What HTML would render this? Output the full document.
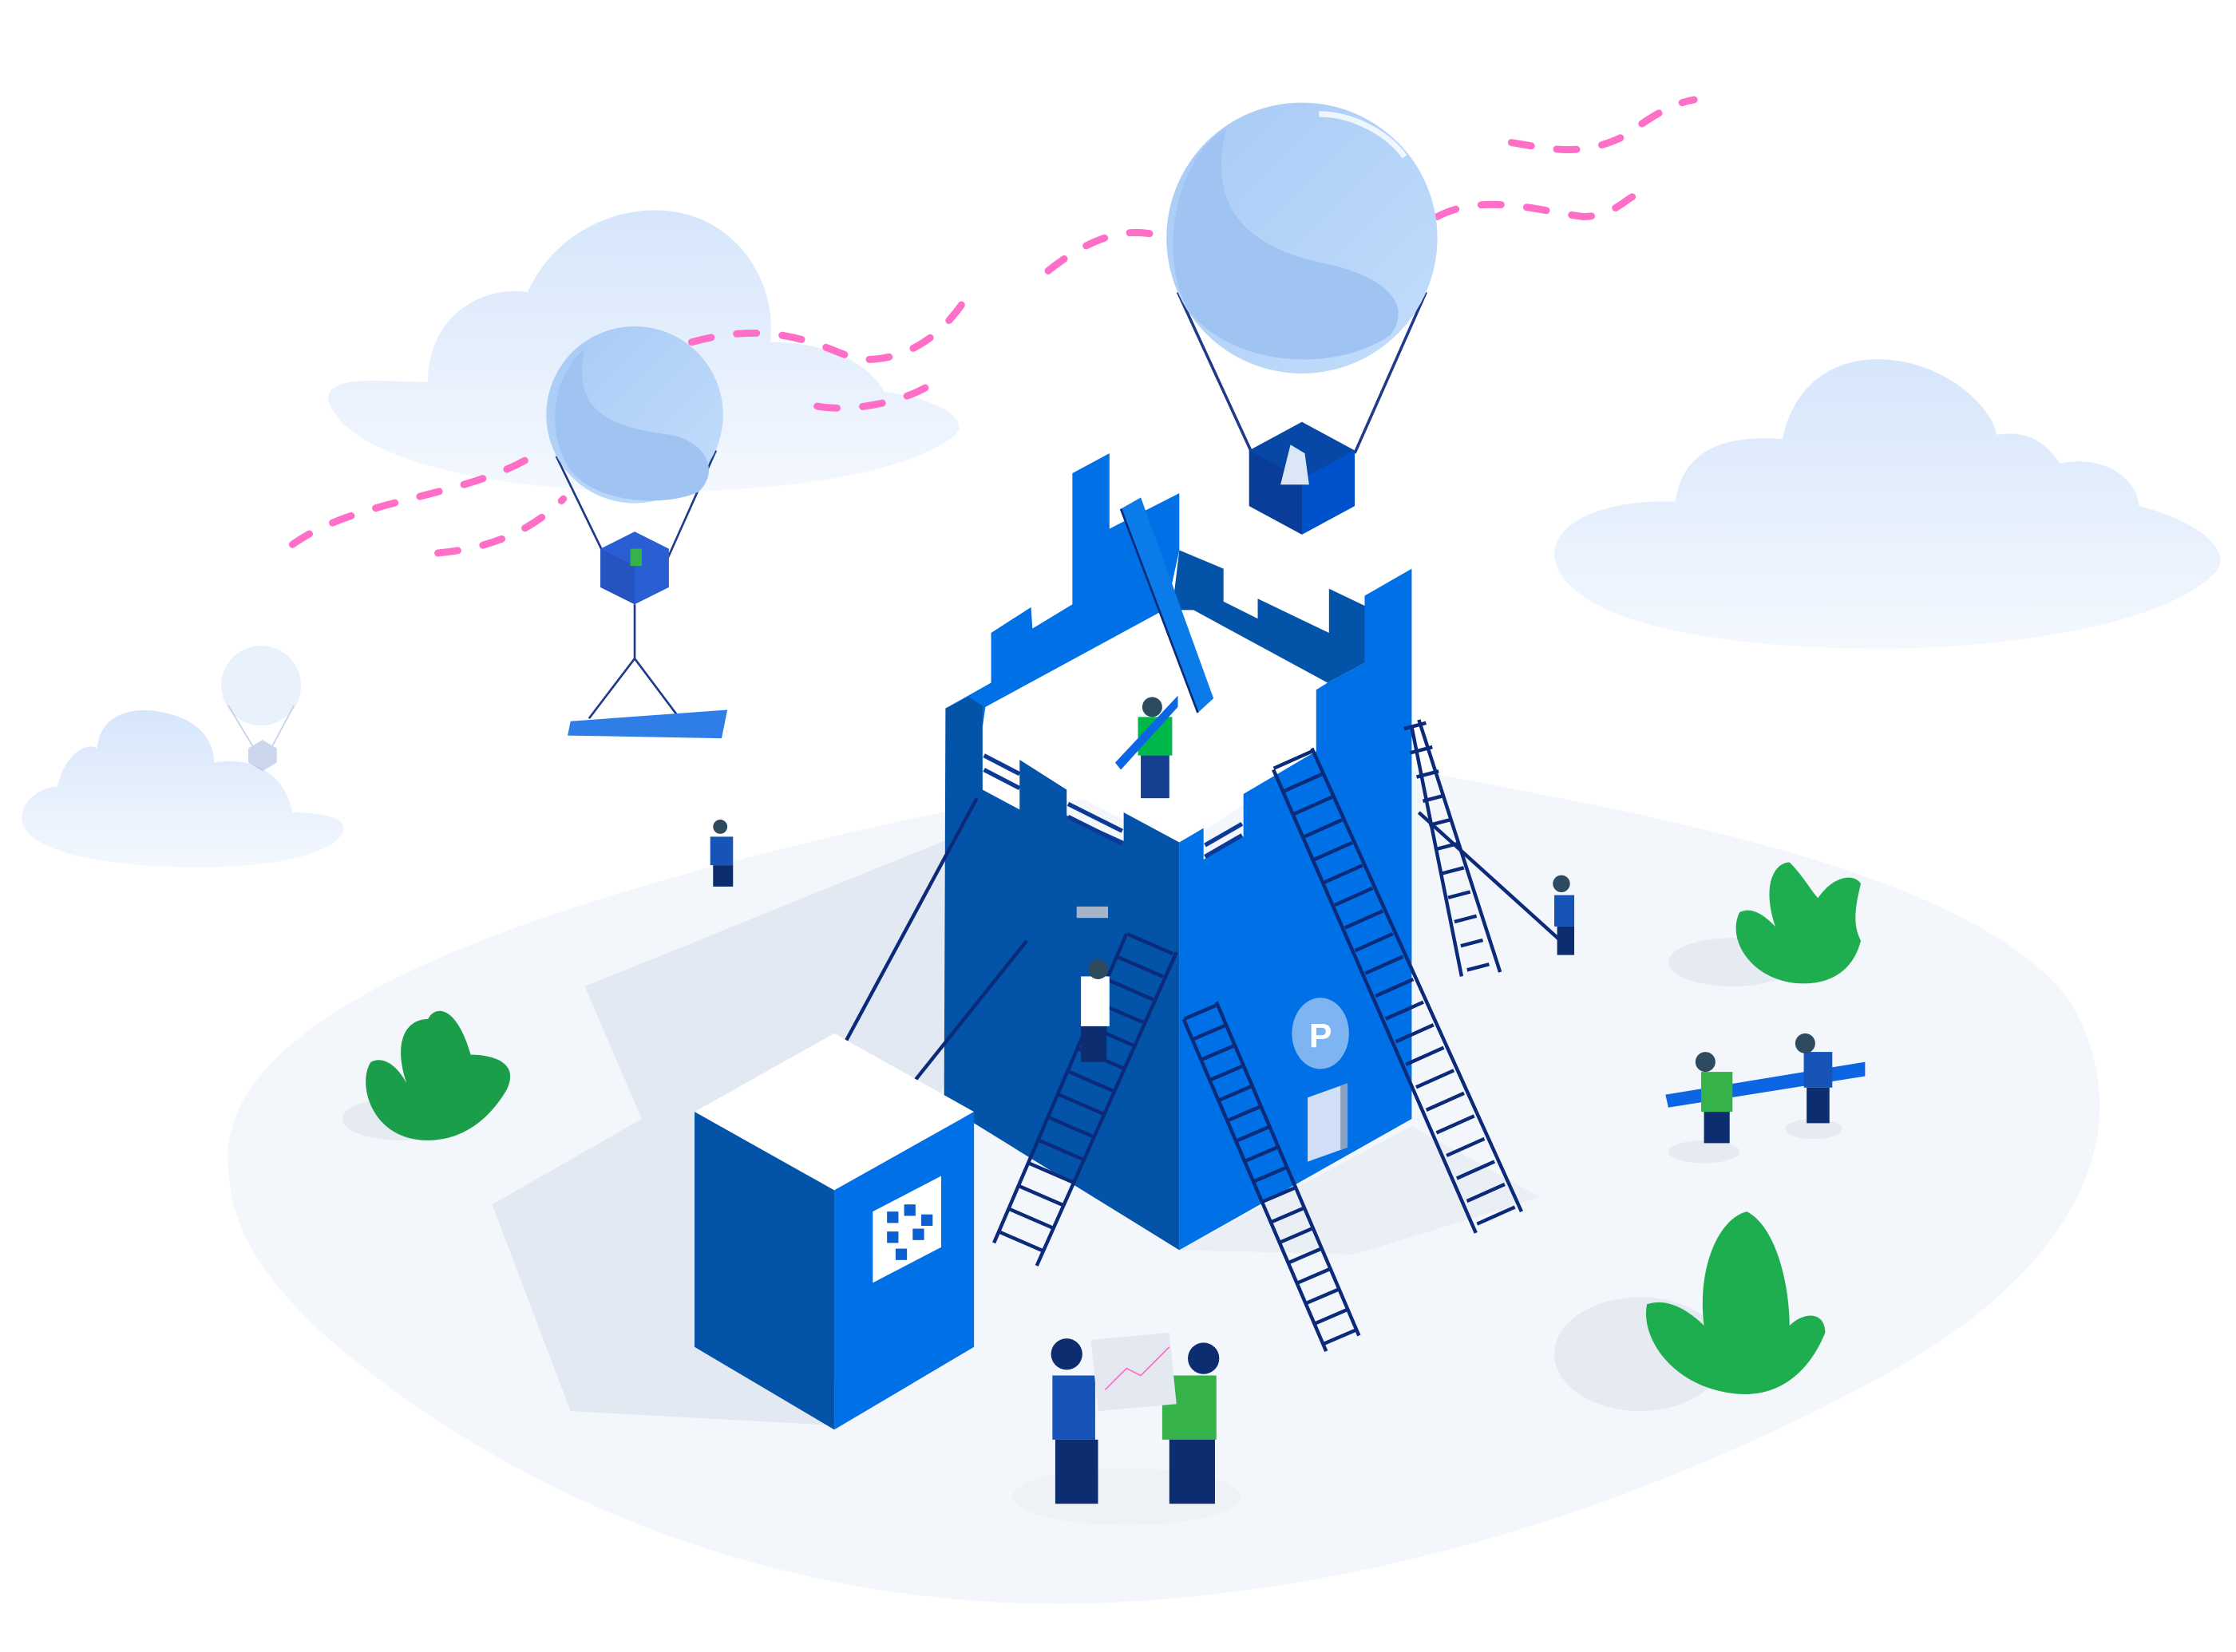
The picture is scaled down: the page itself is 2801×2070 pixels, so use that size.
<!DOCTYPE html>
<html><head><meta charset="utf-8"><style>html,body{margin:0;padding:0;background:#fff;width:2801px;height:2070px;overflow:hidden}svg{display:block}</style></head><body>
<svg width="2801" height="2070" viewBox="0 0 1568 1159" xmlns="http://www.w3.org/2000/svg">
<defs>
<linearGradient id="cl" x1="0" y1="0" x2="0" y2="1"><stop offset="0" stop-color="#d6e6fb"/><stop offset="1" stop-color="#f4f8fe"/></linearGradient>
<linearGradient id="bl" x1="0" y1="0" x2="1" y2="1"><stop offset="0" stop-color="#a6c9f5"/><stop offset="1" stop-color="#c4defc"/></linearGradient>
</defs>
<path d="M160,820 C150,720 330,640 660,570 L990,540 C1150,570 1380,610 1450,700 C1500,780 1470,880 1330,960 C1150,1060 950,1120 760,1125 C520,1130 330,1030 220,930 C180,890 162,860 160,820Z" fill="#f3f7fc"/>
<polygon points="410,692 662,590 662,760 585,1000 400,990 345,845 450,785" fill="#e3e9f3"/>
<polygon points="827,877 990,790 1080,840 950,880" fill="#eaeff6"/>
<g fill="url(#cl)">
<path d="M230,280 C230,262 270,268 300,268 C300,220 340,200 370,205 C390,160 440,140 480,150 C520,160 545,200 540,240 C580,240 610,255 620,275 C660,280 680,295 670,305 C640,330 560,345 460,345 C340,345 240,320 230,280Z"/>
<path d="M1090,390 C1090,360 1140,350 1175,352 C1180,315 1210,305 1250,308 C1260,260 1300,245 1340,255 C1380,265 1400,295 1400,305 C1430,300 1440,320 1445,325 C1480,318 1500,340 1500,355 C1540,365 1565,385 1555,400 C1520,440 1400,455 1320,455 C1180,455 1095,430 1090,390Z"/>
<path d="M15,575 C15,560 30,552 40,552 C45,530 60,520 68,525 C70,500 95,495 115,500 C140,505 150,520 150,535 C180,530 200,545 205,570 C230,570 245,575 240,585 C225,605 170,610 120,608 C60,606 18,595 15,575Z"/>
</g>
<g fill="none" stroke="#ff6ec7" stroke-width="5" stroke-linecap="round" stroke-dasharray="14 18">
<path d="M205,382 C250,350 320,350 370,322"/>
<path d="M307,388 C340,385 370,375 395,350"/>
<path d="M485,240 C540,225 570,240 600,252 C640,255 665,230 680,205"/>
<path d="M573,285 C600,290 640,280 655,268"/>
<path d="M735,190 C760,170 790,155 820,168"/>
<path d="M1008,152 C1040,135 1080,148 1110,152 C1130,152 1140,140 1145,138"/>
<path d="M1060,100 C1090,105 1110,110 1140,95 C1160,80 1175,72 1188,70"/>
</g>
<g opacity="0.45"><circle cx="183" cy="481" r="28" fill="#cfe1f9"/><line x1="160" y1="495" x2="178" y2="525" stroke="#7f9bd0"/><line x1="206" y1="495" x2="190" y2="525" stroke="#7f9bd0"/><polygon points="174,525 184,519 194,525 194,535 184,541 174,535" fill="#8fa6d8"/></g>
<line x1="390" y1="320" x2="425" y2="392" stroke="#1e3a8a" stroke-width="1.5"/>
<line x1="502" y1="316" x2="468" y2="392" stroke="#1e3a8a" stroke-width="1.5"/>
<circle cx="445" cy="291" r="62" fill="url(#bl)"/>
<path d="M410,245 C400,290 430,300 470,305 C495,310 505,330 490,345 C470,355 420,355 400,330 C380,300 390,260 410,245Z" fill="#a0c4f2"/>
<polygon points="421,385 445,373 469,385 469,412 445,424 421,412" fill="#2a5fd3"/>
<polygon points="421,385 445,397 445,424 421,412" fill="#2553c0"/>
<rect x="442" y="385" width="8" height="12" fill="#36b24a"/>
<line x1="445" y1="424" x2="445" y2="462" stroke="#1e3a8a" stroke-width="1.5"/>
<line x1="445" y1="462" x2="413" y2="504" stroke="#1e3a8a" stroke-width="1.5"/>
<line x1="445" y1="462" x2="475" y2="502" stroke="#1e3a8a" stroke-width="1.5"/>
<polygon points="400,506 510,498 506,518 398,516" fill="#2f7ee8"/>
<line x1="826" y1="205" x2="878" y2="318" stroke="#1e3a8a" stroke-width="2"/>
<line x1="1000" y1="205" x2="950" y2="318" stroke="#1e3a8a" stroke-width="2"/>
<circle cx="913" cy="167" r="95" fill="url(#bl)"/>
<path d="M860,90 C845,150 880,175 930,185 C975,195 990,215 975,235 C940,260 870,260 835,220 C810,180 825,110 860,90Z" fill="#a0c4f2"/>
<path d="M925,80 C950,80 975,95 985,110" stroke="#fff" stroke-width="4" fill="none" opacity="0.8"/>
<polygon points="876,316 913,296 950,316 950,355 913,375 876,355" fill="#0747a6"/>
<polygon points="913,336 950,316 950,355 913,375" fill="#0052cc"/>
<polygon points="876,316 913,336 913,375 876,355" fill="#0a3d99"/>
<path d="M898,340 L905,312 L915,318 L918,340 Z" fill="#dbe7f7"/>
<polygon points="678,497 820,424 935,478 922,530 827,595 680,520" fill="#fff"/>
<polygon points="663,497 695,479 695,444 723,426 724,441 752,424 752,332 778,318 778,371 827,346 827,386 818,427 691,496 689,510" fill="#0070e6"/>
<polygon points="827,386 858,399 858,422 882,434 882,420 932,444 932,413 957,425 957,465 931,479 837,428 822,428" fill="#0353a8"/>
<polygon points="786,357 800,349 851,490 840,500" fill="#0c7bea"/>
<line x1="786" y1="357" x2="840" y2="500" stroke="#0b2b7a" stroke-width="1.5"/>
<polygon points="827,591 844,581 844,603 872,587 872,557 923,527 923,484 931,479 957,465 957,418 990,399 990,785 827,877" fill="#0070e6"/>
<polygon points="663,497 679,489 689,495 689,554 715,568 715,533 748,554 748,572 788,590 788,570 827,591 827,877 662,775" fill="#0353a8"/>
<g stroke="#0b3a96" stroke-width="3">
<line x1="690" y1="530" x2="715" y2="543"/><line x1="690" y1="540" x2="715" y2="553"/>
<line x1="749" y1="564" x2="787" y2="583"/><line x1="749" y1="573" x2="787" y2="592"/>
<line x1="845" y1="593" x2="871" y2="578"/><line x1="845" y1="601" x2="871" y2="586"/>
</g>
<polygon points="917,770 945,760 945,805 917,815" fill="#d0dff5"/>
<polygon points="940,762 945,760 945,805 940,807" fill="#8aa0c0"/>
<ellipse cx="926" cy="725" rx="20" ry="25" fill="#7fb4f3"/>
<text x="918" y="735" font-family="Liberation Sans,sans-serif" font-size="24" font-weight="bold" fill="#fff">P</text>
<g stroke="#0b2b7a" fill="none">
<line x1="906" y1="532" x2="1051" y2="857" stroke-width="29" stroke-dasharray="2.5 15"/>
<line x1="841" y1="709" x2="941" y2="942" stroke-width="24" stroke-dasharray="2.5 13"/>
<line x1="807" y1="661" x2="712" y2="880" stroke-width="35" stroke-dasharray="2.5 15"/>
<line x1="992" y1="508" x2="1038" y2="684" stroke-width="16" stroke-dasharray="2.5 15"/>
</g>
<g stroke="#0b2b7a" stroke-width="2.5" fill="none">
<line x1="893" y1="540" x2="1035" y2="865"/><line x1="920" y1="525" x2="1067" y2="850"/>
<line x1="830" y1="715" x2="930" y2="948"/><line x1="853" y1="703" x2="953" y2="937"/>
<line x1="790" y1="655" x2="697" y2="872"/><line x1="825" y1="668" x2="727" y2="888"/>
<line x1="990" y1="510" x2="1025" y2="685"/><line x1="995" y1="505" x2="1052" y2="682"/>
<line x1="685" y1="560" x2="588" y2="740"/><line x1="720" y1="660" x2="640" y2="760"/>
<line x1="995" y1="570" x2="1100" y2="665"/>
</g>
<polygon points="487,780 585,725 683,780 585,835" fill="#fff"/>
<polygon points="487,780 585,835 585,1003 487,945" fill="#0353a8"/>
<polygon points="585,835 683,780 683,945 585,1003" fill="#0070e6"/>
<polygon points="612,850 660,825 660,875 612,900" fill="#fff"/>
<g fill="#0b5fd0"><rect x="622" y="850" width="8" height="8"/><rect x="634" y="845" width="8" height="8"/><rect x="646" y="852" width="8" height="8"/><rect x="622" y="864" width="8" height="8"/><rect x="640" y="862" width="8" height="8"/><rect x="628" y="876" width="8" height="8"/></g>
<g>
<ellipse cx="280" cy="785" rx="40" ry="15" fill="#e6ebf2"/>
<path d="M300,800 C260,800 250,760 260,745 C270,740 280,750 285,760 C275,730 285,715 300,715 C305,705 320,705 330,740 C345,740 365,745 355,765 C340,790 320,800 300,800Z" fill="#1a9e4a"/>
<ellipse cx="1215" cy="675" rx="45" ry="17" fill="#e6ebf2"/>
<path d="M1265,690 C1230,690 1210,660 1220,640 C1230,635 1240,645 1245,650 C1235,620 1245,605 1255,605 C1265,615 1270,625 1275,630 C1285,615 1300,612 1305,620 C1300,640 1300,650 1305,660 C1300,680 1285,690 1265,690Z" fill="#1fae4f"/>
<ellipse cx="1150" cy="950" rx="60" ry="40" fill="#e6ebf2"/>
<path d="M1220,978 C1175,975 1150,940 1155,915 C1170,910 1185,920 1195,930 C1190,890 1205,855 1225,850 C1245,860 1255,900 1255,930 C1265,920 1280,920 1280,935 C1270,960 1250,980 1220,978Z" fill="#1fae4f"/>
</g>
<g>
<ellipse cx="790" cy="1050" rx="80" ry="20" fill="#eef1f6"/>
<rect x="738" y="965" width="30" height="45" fill="#1654b8"/><rect x="740" y="1010" width="30" height="45" fill="#0c2e70"/><circle cx="748" cy="950" r="11" fill="#0c2e70"/>
<rect x="815" y="965" width="38" height="45" fill="#36b24a"/><rect x="820" y="1010" width="32" height="45" fill="#0c2e70"/><circle cx="844" cy="953" r="11" fill="#0c2e70"/>
<polygon points="765,940 820,935 825,985 770,990" fill="#e4e9f1"/>
<polyline points="775,975 790,960 800,965 820,945" stroke="#ff6ec7" fill="none"/>
<rect x="798" y="503" width="24" height="27" fill="#00b84a"/><rect x="800" y="530" width="20" height="30" fill="#163f8f"/><circle cx="808" cy="496" r="7" fill="#2d4a5e"/>
<polygon points="782,535 826,488 826,496 786,540" fill="#0c66e4"/>
<rect x="758" y="685" width="20" height="35" fill="#fff"/><rect x="758" y="720" width="18" height="25" fill="#0c2e70"/><rect x="755" y="636" width="22" height="8" fill="#a7b4c8"/><circle cx="770" cy="680" r="7" fill="#2d4a5e"/>
<rect x="1090" y="628" width="14" height="22" fill="#1654b8"/><rect x="1092" y="650" width="12" height="20" fill="#0c2e70"/><circle cx="1095" cy="620" r="6" fill="#2d4a5e"/>
<rect x="498" y="587" width="16" height="20" fill="#1654b8"/><rect x="500" y="607" width="14" height="15" fill="#0c2e70"/><circle cx="505" cy="580" r="5" fill="#2d4a5e"/>
<ellipse cx="1195" cy="808" rx="25" ry="8" fill="#e6ebf2"/><ellipse cx="1272" cy="792" rx="20" ry="7" fill="#e6ebf2"/>
<polygon points="1168,768 1308,745 1308,755 1170,777" fill="#0c66e4"/>
<rect x="1193" y="752" width="22" height="28" fill="#36b24a"/><rect x="1195" y="780" width="18" height="22" fill="#0c2e70"/><circle cx="1196" cy="745" r="7" fill="#2d4a5e"/>
<rect x="1265" y="738" width="20" height="25" fill="#1654b8"/><rect x="1267" y="763" width="16" height="25" fill="#0c2e70"/><circle cx="1266" cy="732" r="7" fill="#2d4a5e"/>
</g>
</svg>
</body></html>
